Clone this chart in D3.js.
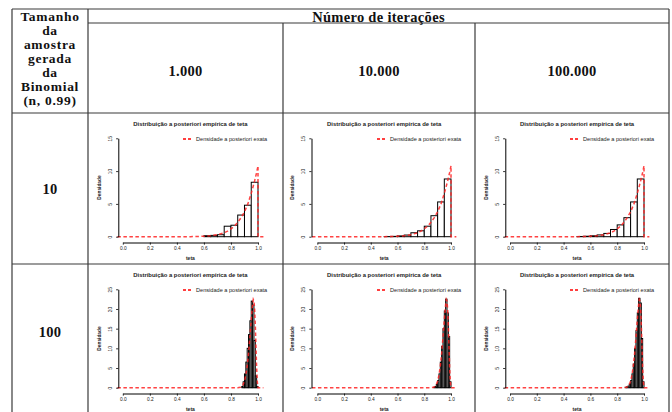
<!DOCTYPE html>
<html>
<head>
<meta charset="utf-8">
<script src="https://cdn.jsdelivr.net/npm/d3@7"></script>
<style>
  body { margin: 0; background: #fff; }
  svg { display: block; }
  .cell-text { font-family: "Liberation Serif", "Times New Roman", serif; font-weight: bold; fill: #111; font-size: 14.5px; letter-spacing: 0.3px; }
  .first-col { font-size: 13.5px; letter-spacing: 0.7px; }
  .plot text { font-family: "Liberation Sans", Arial, sans-serif; fill: #222; }
</style>
</head>
<body>
<svg id="chart" width="672" height="412"></svg>
<script>
// table labels
const headerTitle = "Número de iterações";
const firstColLines = ["Tamanho", "da", "amostra", "gerada", "da", "Binomial", "(n, 0.99)"];
const iterLabels = ["1.000", "10.000", "100.000"];
const sampleSizes = ["10", "100"];

// plot texts
const plotTitle = "Distribuição a posteriori empírica de teta";
const legendLabel = "Densidade a posteriori exata";
const xTicks = [0, 0.2, 0.4, 0.6, 0.8, 1.0];
const yTicksByRow = [[0, 5, 10, 15], [0, 5, 10, 15, 20, 25]];

// histograms (density per bin)
const binWidth = [0.05, 0.01];
const binStart = [[0.60, 0.50, 0.50], [0.88, 0.87, 0.86]];
const hist_n10 = [
  [0.15, 0.2, 0.3, 1.6, 1.75, 3.3, 4.8, 8.3],
  [0.02, 0.05, 0.12, 0.25, 0.6, 0.9, 1.6, 3.2, 5.3, 8.8],
  [0.03, 0.07, 0.14, 0.27, 0.5, 1.1, 1.8, 2.9, 5.3, 8.8]
];
const hist_n100 = [
  [0.3, 1.5, 3.5, 6.5, 10, 13.5, 17, 22, 21, 12, 3, 0.3],
  [0.1, 0.3, 0.8, 1.8, 3.5, 6.5, 10.5, 15, 19.5, 22.5, 19, 13, 1.5],
  [0.1, 0.2, 0.4, 0.9, 1.8, 3.5, 6, 10, 14.5, 19, 22.7, 21.5, 12.5, 1.5]
];

// exact posterior density curves (theta, density)
const exact_n10 = [[-0.04, 0], [0.4, 0], [0.5, 0.01], [0.55, 0.03], [0.6, 0.07], [0.65, 0.15],
  [0.7, 0.3], [0.75, 0.6], [0.775, 0.85], [0.8, 1.2], [0.825, 1.6], [0.85, 2.2], [0.875, 2.9],
  [0.9, 3.8], [0.925, 5.0], [0.95, 6.6], [0.975, 8.5], [0.99, 9.8], [1.0, 10.8], [1.0, 0], [1.04, 0]];
const exact_n100 = [[-0.04, 0], [0.85, 0], [0.87, 0.1], [0.88, 0.3], [0.89, 0.8], [0.90, 1.7],
  [0.91, 3.2], [0.92, 5.5], [0.93, 8.7], [0.94, 12.8], [0.95, 17.3], [0.96, 21.2], [0.965, 22.4],
  [0.97, 22], [0.975, 20], [0.98, 16], [0.985, 10.5], [0.99, 5], [0.995, 1.5], [1.0, 0], [1.04, 0]];

const svg = d3.select("#chart");

// ---- table grid ----
const colX = [12, 88, 283, 475, 669];
const rowY = [9, 23, 113, 264, 430];
const grid = svg.append("g").attr("stroke", "#3a3a3a").attr("stroke-width", 1.2);

grid.append("line").attr("x1", colX[0]).attr("x2", colX[4]).attr("y1", rowY[0]).attr("y2", rowY[0]);
grid.append("line").attr("x1", colX[1]).attr("x2", colX[4]).attr("y1", rowY[1]).attr("y2", rowY[1]);
[2, 3].forEach(r => grid.append("line").attr("x1", colX[0]).attr("x2", colX[4]).attr("y1", rowY[r]).attr("y2", rowY[r]));
[0, 1, 4].forEach(c => grid.append("line").attr("x1", colX[c]).attr("x2", colX[c]).attr("y1", rowY[0]).attr("y2", rowY[4]));
[2, 3].forEach(c => grid.append("line").attr("x1", colX[c]).attr("x2", colX[c]).attr("y1", rowY[1]).attr("y2", rowY[4]));

svg.append("text").attr("class", "cell-text")
  .attr("x", (colX[1] + colX[4]) / 2).attr("y", 21.5)
  .attr("text-anchor", "middle")
  .text(headerTitle);

svg.append("g").selectAll("text").data(firstColLines).join("text")
  .attr("class", "cell-text first-col")
  .attr("x", (colX[0] + colX[1]) / 2)
  .attr("y", (d, i) => 21.3 + i * 13.95)
  .attr("text-anchor", "middle")
  .text(d => d);

svg.append("g").selectAll("text").data(iterLabels).join("text")
  .attr("class", "cell-text")
  .attr("x", (d, i) => (colX[i + 1] + colX[i + 2]) / 2)
  .attr("y", 75.5)
  .attr("text-anchor", "middle")
  .text(d => d);

const rowCenters = [189, 332];
svg.append("g").selectAll("text").data(sampleSizes).join("text")
  .attr("class", "cell-text")
  .attr("x", (colX[0] + colX[1]) / 2)
  .attr("y", (d, i) => rowCenters[i] + 4.8)
  .attr("text-anchor", "middle")
  .text(d => d);

// ---- small histograms ----
const axisX = [118.3, 311.5, 505.3];
const xRange = [[122.8, 258], [317.3, 451], [510, 644]];
const legendX = [183, 377, 570];
const rowTop = [113, 264];
const histData = [hist_n10, hist_n100];
const exactData = [exact_n10, exact_n100];

function drawPlot(row, col) {
  const top = rowTop[row];
  const yTicks = yTicksByRow[row];
  const x = d3.scaleLinear().domain([0, 1]).range(xRange[col]);
  const y = d3.scaleLinear().domain([0, yTicks[yTicks.length - 1]]).range([top + 123.7, top + 25.3]);
  const g = svg.append("g").attr("class", "plot");
  const midX = (xRange[col][0] + xRange[col][1]) / 2;

  g.append("text").attr("x", midX).attr("y", top + 13)
    .attr("text-anchor", "middle").style("font-size", "5.9px").style("font-weight", "bold")
    .text(plotTitle);

  // bars
  const vals = histData[row][col];
  const w = binWidth[row];
  const start = binStart[row][col];
  g.append("g").selectAll("rect").data(vals).join("rect")
    .attr("x", (d, i) => x(start + i * w))
    .attr("width", (d, i) => x(start + (i + 1) * w) - x(start + i * w))
    .attr("y", d => y(d))
    .attr("height", d => y(0) - y(d))
    .attr("fill", "#fff").attr("stroke", "#000").attr("stroke-width", 1);

  // exact curve
  g.append("path").datum(exactData[row])
    .attr("d", d3.line().x(d => x(d[0])).y(d => y(d[1])))
    .attr("fill", "none").attr("stroke", "#f22").attr("stroke-width", 1.5)
    .attr("stroke-dasharray", "3.5,2.5").attr("opacity", 0.85);

  // y axis (R style, labels rotated)
  const yAxis = g.append("g").attr("transform", `translate(${axisX[col]},0)`)
    .call(d3.axisLeft(y).tickValues(yTicks).tickSize(2.2).tickPadding(1.5).tickSizeOuter(0));
  yAxis.select(".domain").attr("stroke", "#000").attr("stroke-width", 1);
  yAxis.selectAll(".tick line").attr("stroke", "#000").attr("stroke-width", 0.8);
  yAxis.selectAll(".tick text")
    .attr("x", 0).attr("dy", 0)
    .attr("transform", "translate(-6.5,0) rotate(-90)")
    .attr("text-anchor", "middle")
    .style("font-size", "4.8px");

  // x axis
  const xAxis = g.append("g").attr("transform", `translate(0,${y(0) + 5.8})`)
    .call(d3.axisBottom(x).tickValues(xTicks).tickFormat(d3.format(".1f")).tickSize(2.2).tickPadding(1.5).tickSizeOuter(0));
  xAxis.select(".domain").attr("stroke", "#000").attr("stroke-width", 1);
  xAxis.selectAll(".tick line").attr("stroke", "#000").attr("stroke-width", 0.8);
  xAxis.selectAll(".tick text").style("font-size", "4.8px");

  g.append("text").attr("x", midX).attr("y", y(0) + 23)
    .attr("text-anchor", "middle").style("font-size", "5px").style("font-weight", "bold")
    .text("teta");

  g.append("text")
    .attr("transform", `translate(${axisX[col] - 19},${top + 74.5}) rotate(-90)`)
    .attr("text-anchor", "middle").attr("dy", "0.35em")
    .style("font-size", "4.8px").style("font-weight", "bold")
    .text("Densidade");

  // legend
  const ly = top + 26;
  g.append("line").attr("x1", legendX[col]).attr("x2", legendX[col] + 10)
    .attr("y1", ly).attr("y2", ly)
    .attr("stroke", "#f00").attr("stroke-width", 1.3).attr("stroke-dasharray", "3,2");
  g.append("text").attr("x", legendX[col] + 13).attr("y", ly).attr("dy", "0.35em")
    .style("font-size", "5.6px")
    .text(legendLabel);
}

[0, 1].forEach(r => [0, 1, 2].forEach(c => drawPlot(r, c)));
</script>
</body>
</html>
